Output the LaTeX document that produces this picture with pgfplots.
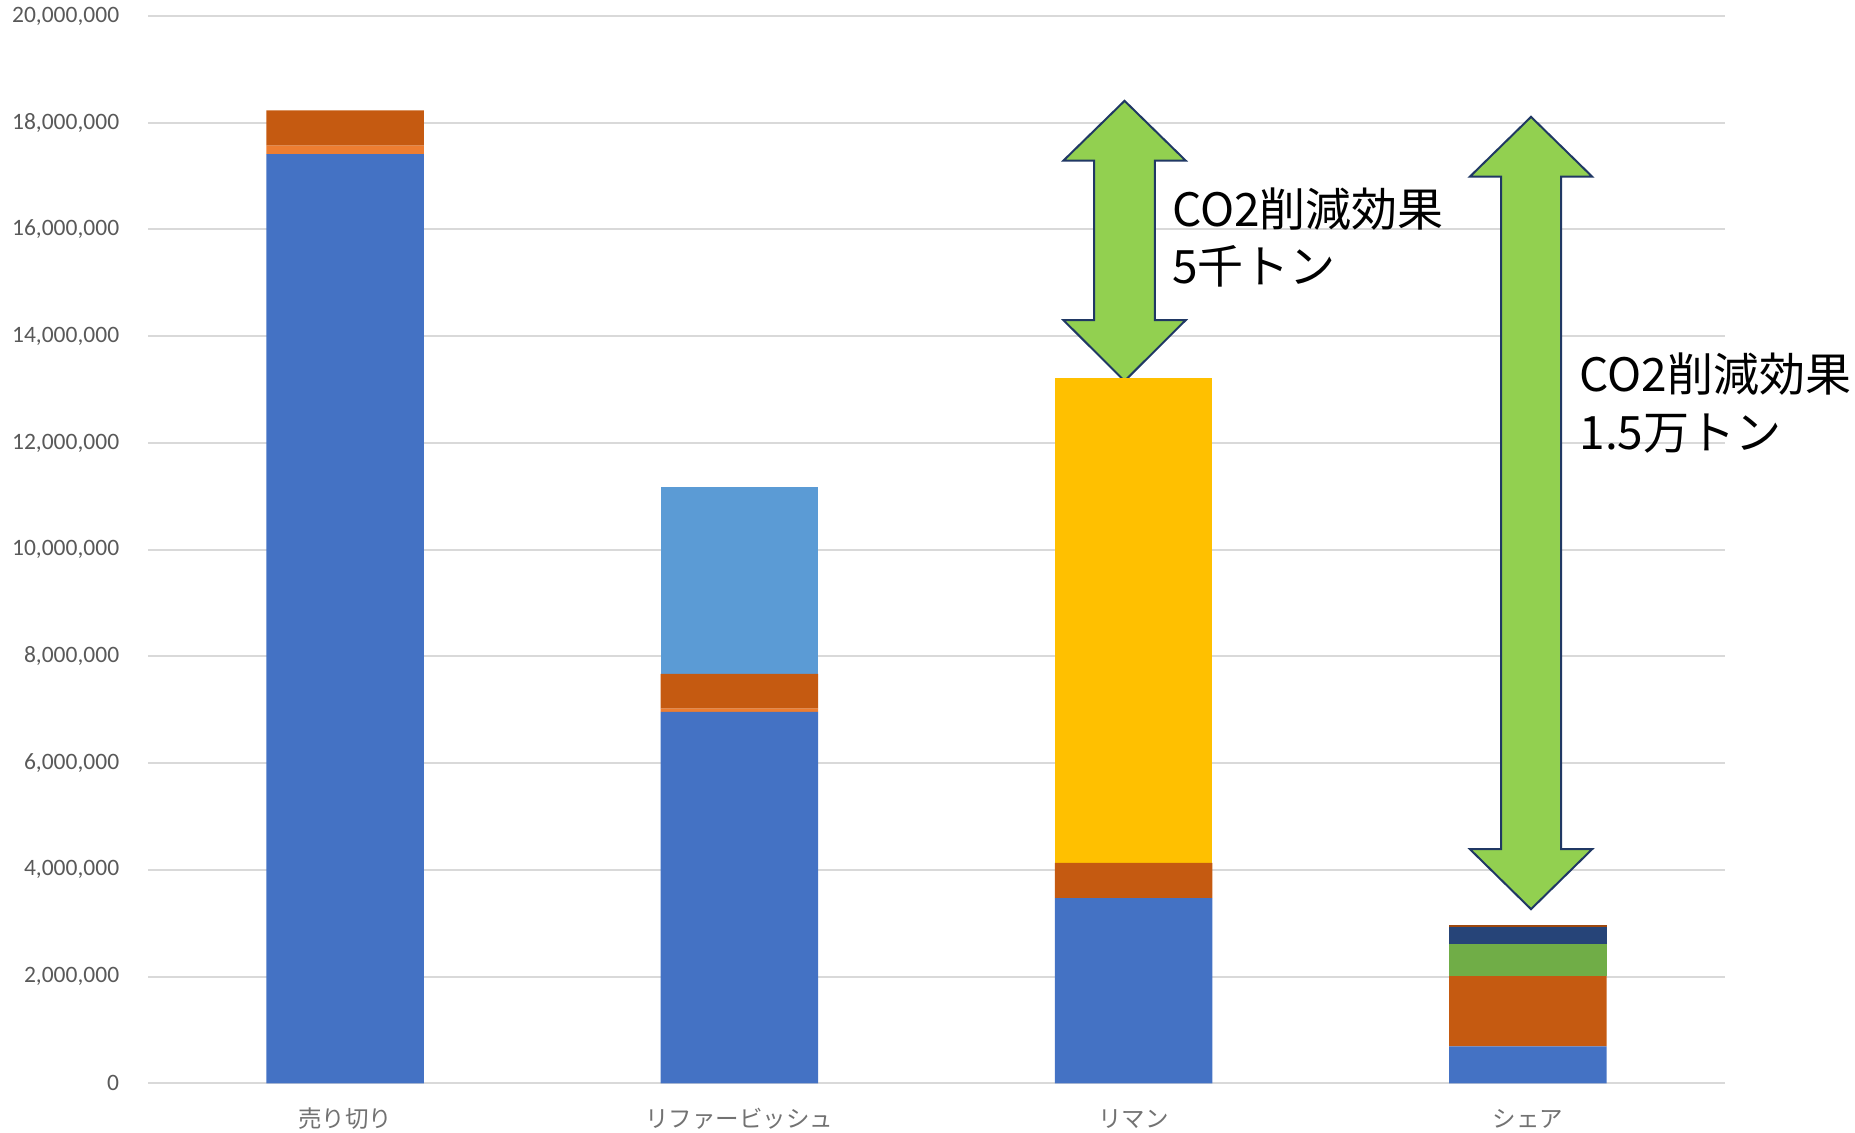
\documentclass[border=0pt]{standalone}
\usepackage{fontspec}
\setmainfont{Carlito}
\newfontfamily\jp{Noto Sans CJK JP}
\usepackage{pgfplots}
\pgfplotsset{compat=1.18}
\definecolor{cblue}{HTML}{4472C4}
\definecolor{clorange}{HTML}{ED7D31}
\definecolor{cdorange}{HTML}{C55A11}
\definecolor{clblue}{HTML}{5B9BD5}
\definecolor{cyellow}{HTML}{FFC000}
\definecolor{cgreen}{HTML}{70AD47}
\definecolor{cnavy}{HTML}{264478}
\definecolor{cbrown}{HTML}{9E480E}
\definecolor{tick}{HTML}{595959}
\definecolor{grid}{HTML}{D9D9D9}
\definecolor{arrfill}{HTML}{92D050}
\definecolor{arrline}{HTML}{203864}
\begin{document}
\begin{tikzpicture}[x=1pt,y=1pt]
\path[use as bounding box] (0,0) rectangle (927.5,566.5);
\begin{axis}[
  at={(74pt,24.85pt)}, anchor=south west,
  scale only axis, width=788.5pt, height=533.65pt,
  xmin=-0.5, xmax=3.5, ymin=0, ymax=20000000,
  ybar stacked, bar width=0.4,
  axis line style={draw=none},
  major tick length=0,
  ymajorgrids, grid style={draw=grid, line width=1pt},
  ytick={0,2000000,4000000,6000000,8000000,10000000,12000000,14000000,16000000,18000000,20000000},
  scaled y ticks=false,
  yticklabel style={/pgf/number format/.cd, fixed, precision=0, 1000 sep={,}, assume math mode=true, /tikz/.cd,
    font=\fontsize{11.75}{14}\selectfont, text=tick, xshift=-10.9pt},
  xtick={0,1,2,3},
  xticklabels={売り切り,リファービッシュ,リマン,シェア},
  xticklabel style={font=\jp\fontsize{11.75}{13}\selectfont, text=tick!85, anchor=center, yshift=-17.8pt},
  clip=false,
]
\addplot[fill=cblue, draw=none] coordinates {(0,17410000) (1,6960000) (2,3470000) (3,690000)};
\addplot[fill=clorange, draw=none] coordinates {(0,160000) (1,60000) (2,0) (3,0)};
\addplot[fill=cdorange, draw=none] coordinates {(0,660000) (1,650000) (2,660000) (3,1320000)};
\addplot[fill=clblue, draw=none] coordinates {(0,0) (1,3500000) (2,0) (3,0)};
\addplot[fill=cyellow, draw=none] coordinates {(0,0) (1,0) (2,9080000) (3,0)};
\addplot[fill=cgreen, draw=none] coordinates {(0,0) (1,0) (2,0) (3,600000)};
\addplot[fill=cnavy, draw=none] coordinates {(0,0) (1,0) (2,0) (3,310000)};
\addplot[fill=cbrown, draw=none] coordinates {(0,0) (1,0) (2,0) (3,50000)};

\draw[fill=arrfill, draw=arrline, line width=1pt, line join=miter]
  (axis cs:1.977,18410000) -- (axis cs:2.132,17290000) -- (axis cs:2.054,17290000)
  -- (axis cs:2.054,14300000) -- (axis cs:2.132,14300000) -- (axis cs:1.977,13160000)
  -- (axis cs:1.822,14300000) -- (axis cs:1.900,14300000) -- (axis cs:1.900,17290000)
  -- (axis cs:1.822,17290000) -- cycle;
\draw[fill=arrfill, draw=arrline, line width=1pt, line join=miter]
  (axis cs:3.008,18110000) -- (axis cs:3.163,16990000) -- (axis cs:3.084,16990000)
  -- (axis cs:3.084,4387000) -- (axis cs:3.163,4387000) -- (axis cs:3.008,3263000)
  -- (axis cs:2.853,4387000) -- (axis cs:2.932,4387000) -- (axis cs:2.932,16990000)
  -- (axis cs:2.853,16990000) -- cycle;

\node[anchor=base west, inner sep=0, font=\jp\fontsize{23}{28}\selectfont] at (axis cs:2.097,16060000) {CO2削減効果};
\node[anchor=base west, inner sep=0, font=\jp\fontsize{23}{28}\selectfont] at (axis cs:2.097,14990000) {5千トン};
\node[anchor=base west, inner sep=0, font=\jp\fontsize{23}{28}\selectfont] at (axis cs:3.130,12970000) {CO2削減効果};
\node[anchor=base west, inner sep=0, font=\jp\fontsize{23}{28}\selectfont] at (axis cs:3.130,11875000) {1.5万トン};
\end{axis}
\end{tikzpicture}
\end{document}
